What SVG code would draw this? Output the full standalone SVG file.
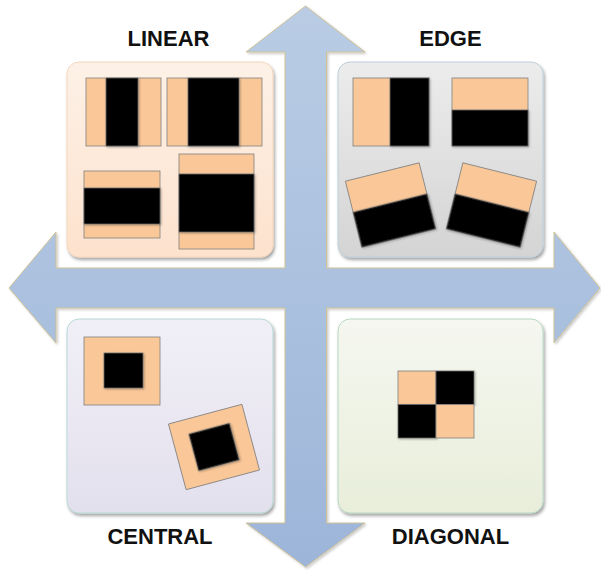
<svg xmlns="http://www.w3.org/2000/svg" width="601" height="571" viewBox="0 0 601 571">
<defs>
<linearGradient id="gArrow" x1="0" y1="0" x2="0" y2="1">
<stop offset="0" stop-color="#b9cce4"/>
<stop offset="0.5" stop-color="#abc1df"/>
<stop offset="1" stop-color="#9db5d9"/>
</linearGradient>
<linearGradient id="gLin" x1="0" y1="0" x2="0" y2="1">
<stop offset="0" stop-color="#fdf1e7"/>
<stop offset="1" stop-color="#fde2cd"/>
</linearGradient>
<linearGradient id="gEdge" x1="0" y1="0" x2="0" y2="1">
<stop offset="0" stop-color="#ececec"/>
<stop offset="1" stop-color="#d4d4d4"/>
</linearGradient>
<linearGradient id="gCen" x1="0" y1="0" x2="0" y2="1">
<stop offset="0" stop-color="#f1eff6"/>
<stop offset="1" stop-color="#e3e0ee"/>
</linearGradient>
<linearGradient id="gDia" x1="0" y1="0" x2="0" y2="1">
<stop offset="0" stop-color="#f5f7f0"/>
<stop offset="1" stop-color="#e8eeda"/>
</linearGradient>
<filter id="shBox" x="-10%" y="-10%" width="125%" height="125%">
<feDropShadow dx="1.5" dy="2.5" stdDeviation="1.5" flood-color="#000" flood-opacity="0.35"/>
</filter>
<filter id="shArrow" x="-5%" y="-5%" width="110%" height="110%">
<feDropShadow dx="1.5" dy="1.5" stdDeviation="1" flood-color="#000" flood-opacity="0.2"/>
</filter>
<filter id="shSmall" x="-10%" y="-10%" width="130%" height="130%">
<feDropShadow dx="1" dy="1" stdDeviation="0.8" flood-color="#000" flood-opacity="0.3"/>
</filter>
</defs>
<style>
.pe{fill:#fac898;stroke:#7f7f7f;stroke-width:0.8}
.bk{fill:#000;stroke:#6f6f6f;stroke-width:0.8;filter:url(#shSmall)}
.bx{stroke-width:1;filter:url(#shBox)}
.lbl{font-family:"Liberation Sans",Arial,sans-serif;font-weight:bold;font-size:22px;fill:#111;text-anchor:middle}
</style>
<rect width="601" height="571" fill="#fff"/>

<g id="connectors">
<polygon points="305.5,6 365,52 326.5,52 326.5,268 554,268 554,232 600,288 554,343 554,308 326.5,308 326.5,523 365,523 305.5,567 246,523 285,523 285,308 56,308 56,343 9,288 56,232 56,268 285,268 285,52 246,52" fill="url(#gArrow)" stroke="#cfc196" stroke-width="1" stroke-linejoin="miter" filter="url(#shArrow)"/>
</g>

<g id="linear">
<rect class="bx" x="67" y="62" width="206" height="195" rx="12" fill="url(#gLin)" stroke="#f4d6bc"/>
<rect class="pe" x="86" y="78" width="75" height="68"/>
<rect class="bk" x="106" y="78" width="32" height="68"/>
<rect class="pe" x="167" y="78" width="95" height="68"/>
<rect class="bk" x="188" y="78" width="51" height="68"/>
<rect class="pe" x="84" y="171" width="76" height="67"/>
<rect class="bk" x="84" y="188" width="76" height="36"/>
<rect class="pe" x="179" y="154" width="75" height="95"/>
<rect class="bk" x="179" y="174" width="75" height="58"/>
<text class="lbl" x="168.5" y="46">LINEAR</text>
</g>

<g id="edge">
<rect class="bx" x="338" y="62" width="205" height="195" rx="12" fill="url(#gEdge)" stroke="#bccfdc"/>
<rect class="pe" x="353" y="78" width="76" height="68"/>
<rect class="bk" x="390" y="78" width="39" height="68"/>
<rect class="pe" x="452" y="78" width="76" height="68"/>
<rect class="bk" x="452" y="110" width="76" height="36"/>
<g transform="translate(390.5,205) rotate(-14)">
<rect class="pe" x="-38" y="-34" width="76" height="68"/>
<rect class="bk" x="-38" y="-2" width="76" height="36"/>
</g>
<g transform="translate(491.5,205) rotate(14)">
<rect class="pe" x="-38" y="-34" width="76" height="68"/>
<rect class="bk" x="-38" y="-2" width="76" height="36"/>
</g>
<text class="lbl" x="450.5" y="46">EDGE</text>
</g>

<g id="central">
<rect class="bx" x="67" y="319" width="206" height="194" rx="12" fill="url(#gCen)" stroke="#b7d9d5"/>
<rect class="pe" x="84" y="337" width="76" height="68"/>
<rect class="bk" x="104" y="353" width="39" height="35"/>
<g transform="translate(214,447) rotate(-15)">
<rect class="pe" x="-38" y="-34" width="76" height="68"/>
<rect class="bk" x="-21" y="-19" width="42" height="38"/>
</g>
<text class="lbl" x="160" y="544">CENTRAL</text>
</g>

<g id="diagonal">
<rect class="bx" x="338" y="319" width="205" height="194" rx="12" fill="url(#gDia)" stroke="#b7d8c2"/>
<rect class="pe" x="398" y="371" width="38" height="33.5"/>
<rect class="bk" x="436" y="371" width="38" height="33.5"/>
<rect class="bk" x="398" y="404.5" width="38" height="33.5"/>
<rect class="pe" x="436" y="404.5" width="38" height="33.5"/>
<text class="lbl" x="450.5" y="544">DIAGONAL</text>
</g>
</svg>
